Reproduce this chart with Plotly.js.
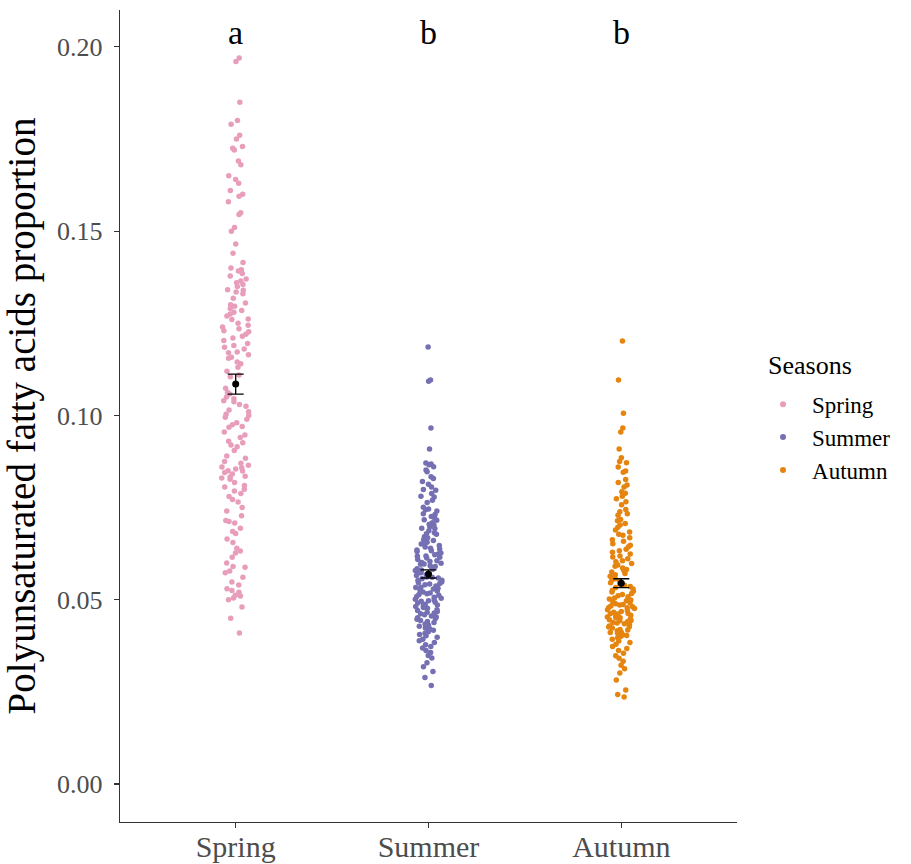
<!DOCTYPE html>
<html>
<head>
<meta charset="utf-8">
<script src="https://cdn.plot.ly/plotly-3.0.1.min.js"></script>
<style>html,body{margin:0;padding:0;background:#fff;}#chart{width:911px;height:864px;}</style>
</head>
<body>
<div id="chart"></div>
<script>
const seasons = ['Spring', 'Summer', 'Autumn'];
const colors = ['#E89EBB', '#7570B3', '#E5850F'];
const letters = ['a', 'b', 'b'];
const means = [0.1085, 0.0570, 0.0545];
const errs = [0.0027, 0.0011, 0.0012];

const spring = [0.197, 0.196, 0.185, 0.180, 0.179, 0.176, 0.175, 0.173, 0.172, 0.1725, 0.169, 0.168,
  0.165, 0.164, 0.163, 0.161, 0.160, 0.1595, 0.158, 0.155, 0.1545, 0.151, 0.150, 0.1465, 0.144,
  0.1415, 0.140, 0.1395, 0.1392, 0.1385, 0.1378, 0.137, 0.136, 0.1365, 0.1355, 0.135, 0.134, 0.1341,
  0.133, 0.1335, 0.1318, 0.1305, 0.130, 0.1296, 0.129, 0.1285, 0.128, 0.1275, 0.127, 0.1262, 0.126,
  0.125, 0.1245, 0.124, 0.1235, 0.123, 0.1227, 0.122, 0.1215, 0.121, 0.1203, 0.1195, 0.119, 0.1185,
  0.118, 0.1172, 0.117, 0.1165, 0.1158, 0.1155, 0.1145, 0.114, 0.1131, 0.112, 0.111, 0.1105, 0.1074,
  0.1063, 0.1058, 0.105, 0.1045, 0.104, 0.1037, 0.103, 0.1025, 0.1015, 0.101, 0.1003, 0.100, 0.0995,
  0.099, 0.098, 0.0975, 0.097, 0.0968, 0.0955, 0.0947, 0.094, 0.093, 0.0926, 0.092, 0.0915, 0.0905,
  0.089, 0.0884, 0.0875, 0.087, 0.0865, 0.086, 0.0858, 0.0855, 0.085, 0.0849, 0.0845, 0.0841, 0.0835,
  0.0833, 0.083, 0.0827, 0.0818, 0.081, 0.0806, 0.080, 0.0795, 0.0788, 0.078, 0.0772, 0.0765, 0.075,
  0.0741, 0.0728, 0.0715, 0.0712, 0.0708, 0.0694, 0.0685, 0.068, 0.0665, 0.0655, 0.064, 0.0632, 0.0627,
  0.0615, 0.060, 0.059, 0.0588, 0.0578, 0.0573, 0.0561, 0.0548, 0.054, 0.053, 0.0525, 0.052, 0.0512,
  0.051, 0.0505, 0.050, 0.048, 0.045, 0.041];

const summer = [0.1186, 0.1096, 0.1093, 0.0966, 0.0909, 0.0871, 0.0868, 0.0866, 0.0861, 0.0852, 0.0847,
  0.0834, 0.0829, 0.0821, 0.0813, 0.0806, 0.0799, 0.0797, 0.0788, 0.0781, 0.0779, 0.0770, 0.0764, 0.0751,
  0.0746, 0.0744, 0.0741, 0.0733, 0.0731, 0.0726, 0.0722, 0.0717, 0.0716, 0.0709, 0.0705, 0.0703, 0.0698,
  0.0694, 0.0693, 0.0687, 0.0682, 0.0679, 0.0678, 0.0671, 0.0668, 0.0663, 0.0661, 0.0656, 0.0652, 0.0651,
  0.0647, 0.0643, 0.0640, 0.0638, 0.0633, 0.0631, 0.0627, 0.0624, 0.0622, 0.0618, 0.0615, 0.0613, 0.0609,
  0.0606, 0.0604, 0.0601, 0.0599, 0.0596, 0.0592, 0.0590, 0.0588, 0.0584, 0.0581, 0.0579, 0.0577, 0.0573,
  0.0571, 0.0568, 0.0566, 0.0562, 0.0561, 0.0557, 0.0553, 0.0552, 0.0548, 0.0546, 0.0543, 0.0541, 0.0537,
  0.0534, 0.0533, 0.0529, 0.0526, 0.0524, 0.0521, 0.0518, 0.0516, 0.0512, 0.0509, 0.0507, 0.0504, 0.0501,
  0.0499, 0.0496, 0.0493, 0.0491, 0.0488, 0.0486, 0.0482, 0.0479, 0.0477, 0.0473, 0.0471, 0.0468, 0.0464,
  0.0462, 0.0459, 0.0456, 0.0453, 0.0451, 0.0447, 0.0444, 0.0441, 0.0438, 0.0434, 0.0431, 0.0428, 0.0423,
  0.0421, 0.0417, 0.0413, 0.0409, 0.0406, 0.0402, 0.0398, 0.0393, 0.0389, 0.0384, 0.0378, 0.0373, 0.0369,
  0.0362, 0.0357, 0.0349, 0.0342, 0.0329, 0.0318, 0.0305, 0.0289, 0.0267,
  0.0635, 0.0619, 0.0597, 0.0583, 0.0559, 0.0544, 0.0531, 0.0514, 0.0497, 0.0484, 0.0466, 0.0449];

const autumn = [0.1202, 0.1096, 0.1006, 0.0966, 0.0955, 0.0909, 0.0885, 0.0875, 0.0872, 0.0860, 0.0849,
  0.0846, 0.0826, 0.0818, 0.0811, 0.0806, 0.0793, 0.0789, 0.0781, 0.0774, 0.0766, 0.0758, 0.0745, 0.0739,
  0.0733, 0.0729, 0.0718, 0.0714, 0.0707, 0.0703, 0.0697, 0.0689, 0.0684, 0.0678, 0.0675, 0.0668, 0.0663,
  0.0659, 0.0652, 0.0648, 0.0644, 0.0637, 0.0633, 0.0629, 0.0624, 0.0619, 0.0616, 0.0611, 0.0606, 0.0603,
  0.0598, 0.0594, 0.0591, 0.0586, 0.0582, 0.0579, 0.0575, 0.0571, 0.0568, 0.0564, 0.0561, 0.0557, 0.0553,
  0.0551, 0.0546, 0.0543, 0.0539, 0.0536, 0.0533, 0.0529, 0.0526, 0.0523, 0.0521, 0.0517, 0.0514, 0.0511,
  0.0508, 0.0505, 0.0502, 0.0499, 0.0497, 0.0494, 0.0491, 0.0489, 0.0486, 0.0483, 0.0481, 0.0478, 0.0476,
  0.0473, 0.0471, 0.0468, 0.0466, 0.0463, 0.0461, 0.0458, 0.0456, 0.0453, 0.0451, 0.0448, 0.0446, 0.0443,
  0.0441, 0.0438, 0.0435, 0.0432, 0.0429, 0.0426, 0.0423, 0.0419, 0.0416, 0.0412, 0.0409, 0.0405, 0.0401,
  0.0397, 0.0393, 0.0388, 0.0384, 0.0379, 0.0373, 0.0368, 0.0362, 0.0355, 0.0348, 0.0341, 0.0333, 0.0322,
  0.0313, 0.0301, 0.0282, 0.0255, 0.0243, 0.0236,
  0.0487, 0.0479, 0.0462, 0.0452, 0.0444, 0.0437, 0.0427, 0.0418, 0.0411, 0.0403];

const values = [spring, summer, autumn];
const serif = '"Liberation Serif", "Times New Roman", "DejaVu Serif", serif';

const traces = [];
seasons.forEach((s, i) => {
  traces.push({
    type: 'box', x0: s, y: values[i], name: s,
    boxpoints: 'all', jitter: 0.3, pointpos: 0,
    fillcolor: 'rgba(0,0,0,0)', line: {color: 'rgba(0,0,0,0)', width: 0},
    whiskerwidth: 0,
    marker: {color: colors[i], size: 5.5, line: {width: 0}},
    showlegend: false, hoverinfo: 'y'
  });
});
seasons.forEach((s, i) => {
  traces.push({
    type: 'scatter', mode: 'markers', x: [null], y: [null], name: s,
    marker: {color: colors[i], size: 6}, showlegend: true
  });
});
traces.push({
  type: 'scatter', mode: 'markers', x: seasons, y: means,
  marker: {color: 'black', size: 7},
  error_y: {type: 'data', array: errs, color: 'black', thickness: 1.3, width: 8},
  showlegend: false
});

const annotations = seasons.map((s, i) => ({
  x: s, y: 0.2038, xref: 'x', yref: 'y', text: letters[i], showarrow: false,
  yanchor: 'middle', font: {family: serif, size: 34, color: 'black'}
}));
annotations.push({
  x: 1.047, y: 0.5616, xref: 'paper', yref: 'paper', text: 'Seasons', showarrow: false,
  xanchor: 'left', yanchor: 'middle', font: {family: serif, size: 26, color: 'black'}
});

const layout = {
  width: 911, height: 864,
  margin: {l: 120, r: 174, t: 10, b: 42},
  paper_bgcolor: 'white', plot_bgcolor: 'white',
  font: {family: serif, color: '#4D4D4D'},
  boxmode: 'overlay', boxgap: 0.3,
  xaxis: {
    type: 'category', categoryorder: 'array', categoryarray: seasons,
    range: [-0.6, 2.6], showgrid: false, zeroline: false,
    showline: true, linecolor: '#333', linewidth: 1.3,
    ticks: 'outside', ticklen: 5, tickcolor: '#333', tickwidth: 1.2,
    ticklabelstandoff: -7,
    tickfont: {family: serif, size: 30, color: '#4D4D4D'}
  },
  yaxis: {
    range: [-0.0103, 0.2100], showgrid: false, zeroline: false,
    showline: true, linecolor: '#333', linewidth: 1.3,
    ticks: 'outside', ticklen: 5, tickcolor: '#333', tickwidth: 1.2,
    ticklabelstandoff: 6,
    tickvals: [0, 0.05, 0.10, 0.15, 0.20], ticktext: ['0.00', '0.05', '0.10', '0.15', '0.20'],
    tickfont: {family: serif, size: 26, color: '#4D4D4D'},
    title: {text: 'Polyunsaturated fatty acids proportion', font: {family: serif, size: 39, color: 'black'}, standoff: 10}
  },
  legend: {
    x: 1.0276, y: 0.541, xanchor: 'left', yanchor: 'top',
    itemwidth: 48,
    font: {family: serif, size: 23, color: 'black'},
    bgcolor: 'rgba(0,0,0,0)'
  },
  annotations: annotations
};

Plotly.newPlot('chart', traces, layout, {displayModeBar: false, staticPlot: true});
</script>
</body>
</html>
